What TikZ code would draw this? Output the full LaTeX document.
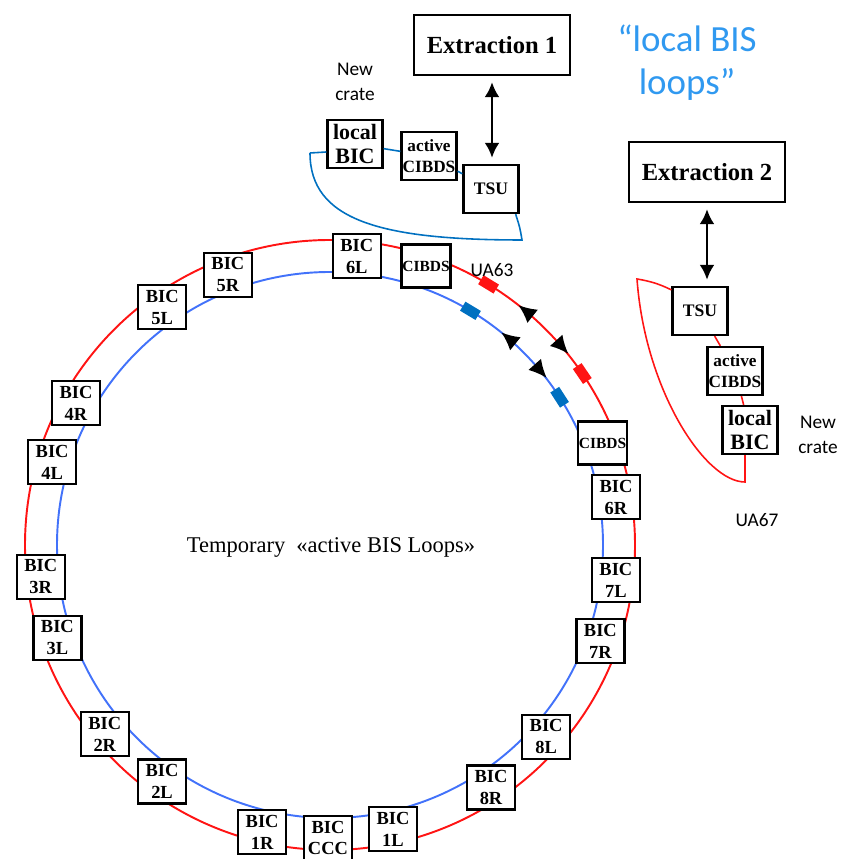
\documentclass[tikz,border=0pt]{standalone}
\usepackage{fontspec}
\setmainfont{Liberation Serif}
\newfontfamily\calibri{Carlito}
\usetikzlibrary{arrows.meta,decorations.markings}
\definecolor{ringred}{RGB}{255,20,20}
\definecolor{ringblue}{RGB}{66,114,250}
\definecolor{loopblue}{RGB}{0,112,192}
\definecolor{quoteblue}{RGB}{48,153,240}
\tikzset{
  plainbox/.style={draw, fill=white, line width=1.3pt, inner sep=0pt, align=center},
  bic/.style={plainbox, minimum width=0.96cm, minimum height=0.88cm, font=\bfseries\fontsize{10.5}{12.5}\selectfont},
  cibds/.style={plainbox, minimum width=0.98cm, minimum height=0.86cm, font=\bfseries\fontsize{8.8}{9}\selectfont},
  crate/.style={plainbox, minimum width=1.1cm, minimum height=0.96cm},
  extr/.style={plainbox, minimum width=3.12cm, minimum height=1.2cm, font=\bfseries\fontsize{14}{16}\selectfont},
  txt/.style={font=\calibri\fontsize{11}{14}\selectfont, align=center},
  dbl/.style={{Latex[length=0.3cm,width=0.3cm]}-{Latex[length=0.3cm,width=0.3cm]}, line width=1.6pt, shorten <=0.12cm, shorten >=0.12cm},
  redmark/.style={transform shape, fill=ringred, minimum width=0.36cm, minimum height=0.21cm, inner sep=0pt},
  bluemark/.style={transform shape, fill=loopblue, minimum width=0.36cm, minimum height=0.21cm, inner sep=0pt}
}
\begin{document}
\begin{tikzpicture}
    \useasboundingbox (0,0) rectangle (16.84,17.18);
    % the two beam loops
    \coordinate (ring) at (6.6,6.28);
    \draw[ringred, line width=1.1pt, postaction={decorate}, decoration={markings,
        mark=at position 0.095 with {\node[redmark] {};},
        mark=at position 0.163 with {\node[redmark] {};},
        mark=at position 0.117 with {\arrow{Latex[reversed,color=black,length=0.36cm,width=0.34cm]}},
        mark=at position 0.144 with {\arrow{Latex[color=black,length=0.36cm,width=0.34cm]}}}]
        (ring) circle[radius=6.1cm];
    \draw[ringblue, line width=1.1pt, postaction={decorate}, decoration={markings,
        mark=at position 0.091 with {\node[bluemark] {};},
        mark=at position 0.164 with {\node[bluemark] {};},
        mark=at position 0.115 with {\arrow{Latex[reversed,color=black,length=0.36cm,width=0.34cm]}},
        mark=at position 0.142 with {\arrow{Latex[color=black,length=0.36cm,width=0.34cm]}}}]
        (ring) circle[radius=5.46cm];
    % BIC crates round the ring
    \foreach \ang/\rad/\id in {84.7/5.80/6L, 110.7/5.78/5R, 125.2/5.82/5L, 150.8/5.82/4R,
        163.4/5.80/4L, 186.3/5.82/3R, 198.8/5.76/3L, 220.0/5.88/2R, 234.6/5.80/2L,
        256.7/5.90/1R, 269.6/5.86/CCC, 282.5/5.82/1L, 303.6/5.82/8R, 318.4/5.78/8L,
        340.4/5.74/7R, 353.0/5.76/7L, 9.5/5.80/6R}
        \node[bic] (bic\id) at ([shift={(\ang:\rad)}]ring) {BIC\\\id};
    \node[cibds] (cib63) at ([shift={(71.0:5.90)}]ring) {CIBDS};
    \node[cibds] (cib67) at ([shift={(20.5:5.82)}]ring) {CIBDS};
    \node[txt] (ua63) at (9.84,11.78) {UA63};
    \node[font=\fontsize{12.8}{15}\selectfont] (temp) at (6.62,6.24) {Temporary~~«active BIS Loops»};
    % local loop, extraction 1
    \node[extr] (ext1) at (9.84,16.28) {Extraction 1};
    \node[crate, font=\bfseries\fontsize{12.5}{14}\selectfont] (lbic1) at (7.10,14.30) {local\\BIC};
    \node[crate, font=\bfseries\fontsize{9.8}{11.6}\selectfont] (acib1) at (8.58,14.06) {active\\CIBDS};
    \node[crate, font=\bfseries\fontsize{10}{11}\selectfont] (tsu1) at (9.82,13.40) {TSU};
    \node[txt] (new1) at (7.10,15.54) {New\\crate};
    \draw[dbl] (ext1.south) -- (ext1.south |- tsu1.north);
    \coordinate (l1) at (6.20,14.12);
    \coordinate (c1) at (10.44,12.38);
    \draw[loopblue, line width=0.9pt] (l1) -- ([yshift=-0.16cm]lbic1.west);
    \draw[loopblue, line width=0.9pt] (lbic1) -- (acib1);
    \draw[loopblue, line width=0.9pt] (acib1) -- (tsu1);
    \draw[loopblue, line width=0.9pt] ([xshift=-0.08cm]tsu1.south east) .. controls (10.40,12.62) .. (c1)
        .. controls (7.60,12.38) and (6.20,12.78) .. (l1);
    % local loop, extraction 2
    \node[extr] (ext2) at (14.14,13.74) {Extraction 2};
    \node[crate, font=\bfseries\fontsize{10}{11}\selectfont] (tsu2) at (14.00,10.96) {TSU};
    \node[crate, font=\bfseries\fontsize{9.8}{11.6}\selectfont] (acib2) at (14.70,9.76) {active\\CIBDS};
    \node[crate, font=\bfseries\fontsize{12.5}{14}\selectfont] (lbic2) at (15.00,8.58) {local\\BIC};
    \node[txt] (new2) at (16.36,8.48) {New\\crate};
    \node[txt] (ua67) at (15.14,6.78) {UA67};
    \draw[dbl] (ext2.south) -- (ext2.south |- tsu2.north);
    \coordinate (l2) at (12.74,11.60);
    \coordinate (c2) at (14.90,7.54);
    \draw[ringred, line width=0.9pt] (tsu2) -- (acib2);
    \draw[ringred, line width=0.9pt] (acib2) -- (lbic2);
    \draw[ringred, line width=0.9pt] (lbic2.south -| c2) -- (c2)
        .. controls (14.10,7.54) and (12.90,9.38) .. (l2)
        to[bend left=8] ([yshift=-0.08cm]tsu2.north west);
    % title
    \node[font=\calibri\fontsize{21}{24.4}\selectfont, text=quoteblue, align=center] (title) at (13.74,15.92) {“local BIS\\loops”};
\end{tikzpicture}
\end{document}
